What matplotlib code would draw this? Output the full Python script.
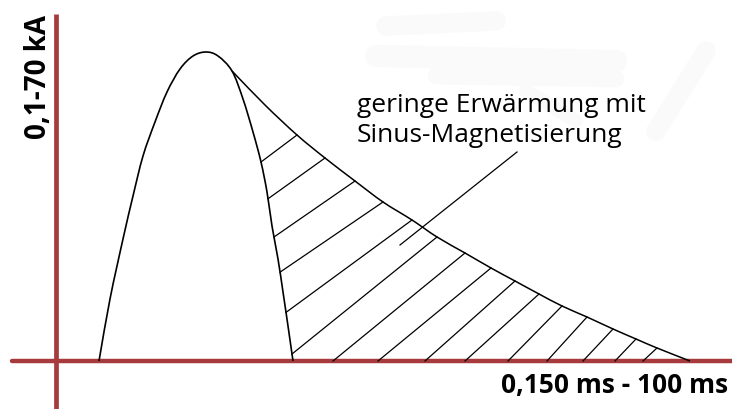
import numpy as np
import matplotlib
matplotlib.use("Agg")
import matplotlib.pyplot as plt
from matplotlib.path import Path
from matplotlib.patches import PathPatch

# --- data (schematic; x: time units, y: current units) ---
sine_x = [43, 54, 67, 77, 87, 99, 111, 124, 137, 150, 162, 176, 187, 197, 205, 211, 216, 222, 227, 232, 237]
sine_y = [0, 62, 122, 165, 205, 239, 269, 292, 305, 309, 305, 290, 262, 229, 199, 169, 135, 102, 69, 35, 0]

decay_x = [176, 209, 241, 269, 299, 327, 356, 381, 409, 435, 459, 483, 506, 531, 557, 580, 601, 634]
decay_y = [290, 256, 226, 203, 180, 159, 141, 124, 108, 93, 80, 67, 55, 44, 32, 22, 13, 0]

hatch_top_x = [241, 269, 299, 327, 356, 381, 409, 435, 459, 483, 506, 531, 557, 580, 601]
hatch_bottom_x = [205, 212, 218, 224, 230, 236, 277, 322, 369, 409, 452, 491, 527, 559, 587]

pointer_x = [344, 461]
pointer_y = [116, 209]

y_label = "0,1-70 kA"
x_label = "0,150 ms - 100 ms"
note = "geringe Erwärmung mit\nSinus-Magnetisierung"

RED = "#a63a3c"


def smooth_path(xs, ys):
    """Catmull-Rom through the given points, rendered as cubic Bezier segments."""
    p = np.column_stack([xs, ys]).astype(float)
    ext = np.vstack([2 * p[0] - p[1], p, 2 * p[-1] - p[-2]])
    verts = [tuple(p[0])]
    codes = [Path.MOVETO]
    for i in range(1, len(ext) - 2):
        p0, p1, p2, p3 = ext[i - 1], ext[i], ext[i + 1], ext[i + 2]
        c1 = p1 + (p2 - p0) / 6.0
        c2 = p2 - (p3 - p1) / 6.0
        verts += [tuple(c1), tuple(c2), tuple(p2)]
        codes += [Path.CURVE4] * 3
    return Path(verts, codes)


fig = plt.figure(figsize=(7.32, 4.10), dpi=100)
ax = fig.add_axes([0, 0, 1, 1])
ax.set_xlim(-56, 676)
ax.set_ylim(-48, 362)
ax.axis("off")

# faint background smudge (barely visible)
for (xa, ya, xb, yb, w) in [(330, 335, 440, 340, 14), (320, 305, 560, 300, 16),
                            (380, 285, 560, 282, 12), (650, 310, 600, 230, 14),
                            (470, 270, 520, 240, 10)]:
    ax.plot([xa, xb], [ya, yb], color="#fafafa", lw=w, solid_capstyle="round", zorder=0)

# axes lines
ax.plot([0, 0], [-48, 347], color=RED, lw=3.4, solid_capstyle="butt", zorder=1)
ax.plot([-44, 676], [0, 0], color=RED, lw=3.2, solid_capstyle="round", zorder=1)

# curves
ax.add_patch(PathPatch(smooth_path(sine_x, sine_y), fill=False, edgecolor="black", lw=1.2, zorder=3))
ax.add_patch(PathPatch(smooth_path(decay_x, decay_y), fill=False, edgecolor="black", lw=1.1, zorder=3))

# hatch lines
sx = np.array(sine_x, dtype=float)
sy = np.array(sine_y, dtype=float)
peak = int(np.argmax(sy))
rx, ry = sx[peak:], sy[peak:]
for tx, bx in zip(hatch_top_x, hatch_bottom_x):
    ty = np.interp(tx, decay_x, decay_y)
    by = np.interp(bx, rx, ry) if bx < rx[-1] else 0.0
    ax.plot([bx, tx], [by, ty], color="black", lw=0.9, zorder=2)

ax.plot(pointer_x, pointer_y, color="black", lw=0.9, zorder=2)

ax.text(301, 220, note, fontsize=19, family="Open Sans", color="black",
        ha="left", va="baseline", linespacing=1.28)

ax.text(-18, 347, y_label, rotation=90, fontsize=20, fontweight="bold",
        family="Open Sans", ha="center", va="top", color="black")
ax.text(672, -10, x_label, fontsize=19, fontweight="bold",
        family="Open Sans", ha="right", va="top", color="black")

fig.savefig("out.png", dpi=100, facecolor="white")
